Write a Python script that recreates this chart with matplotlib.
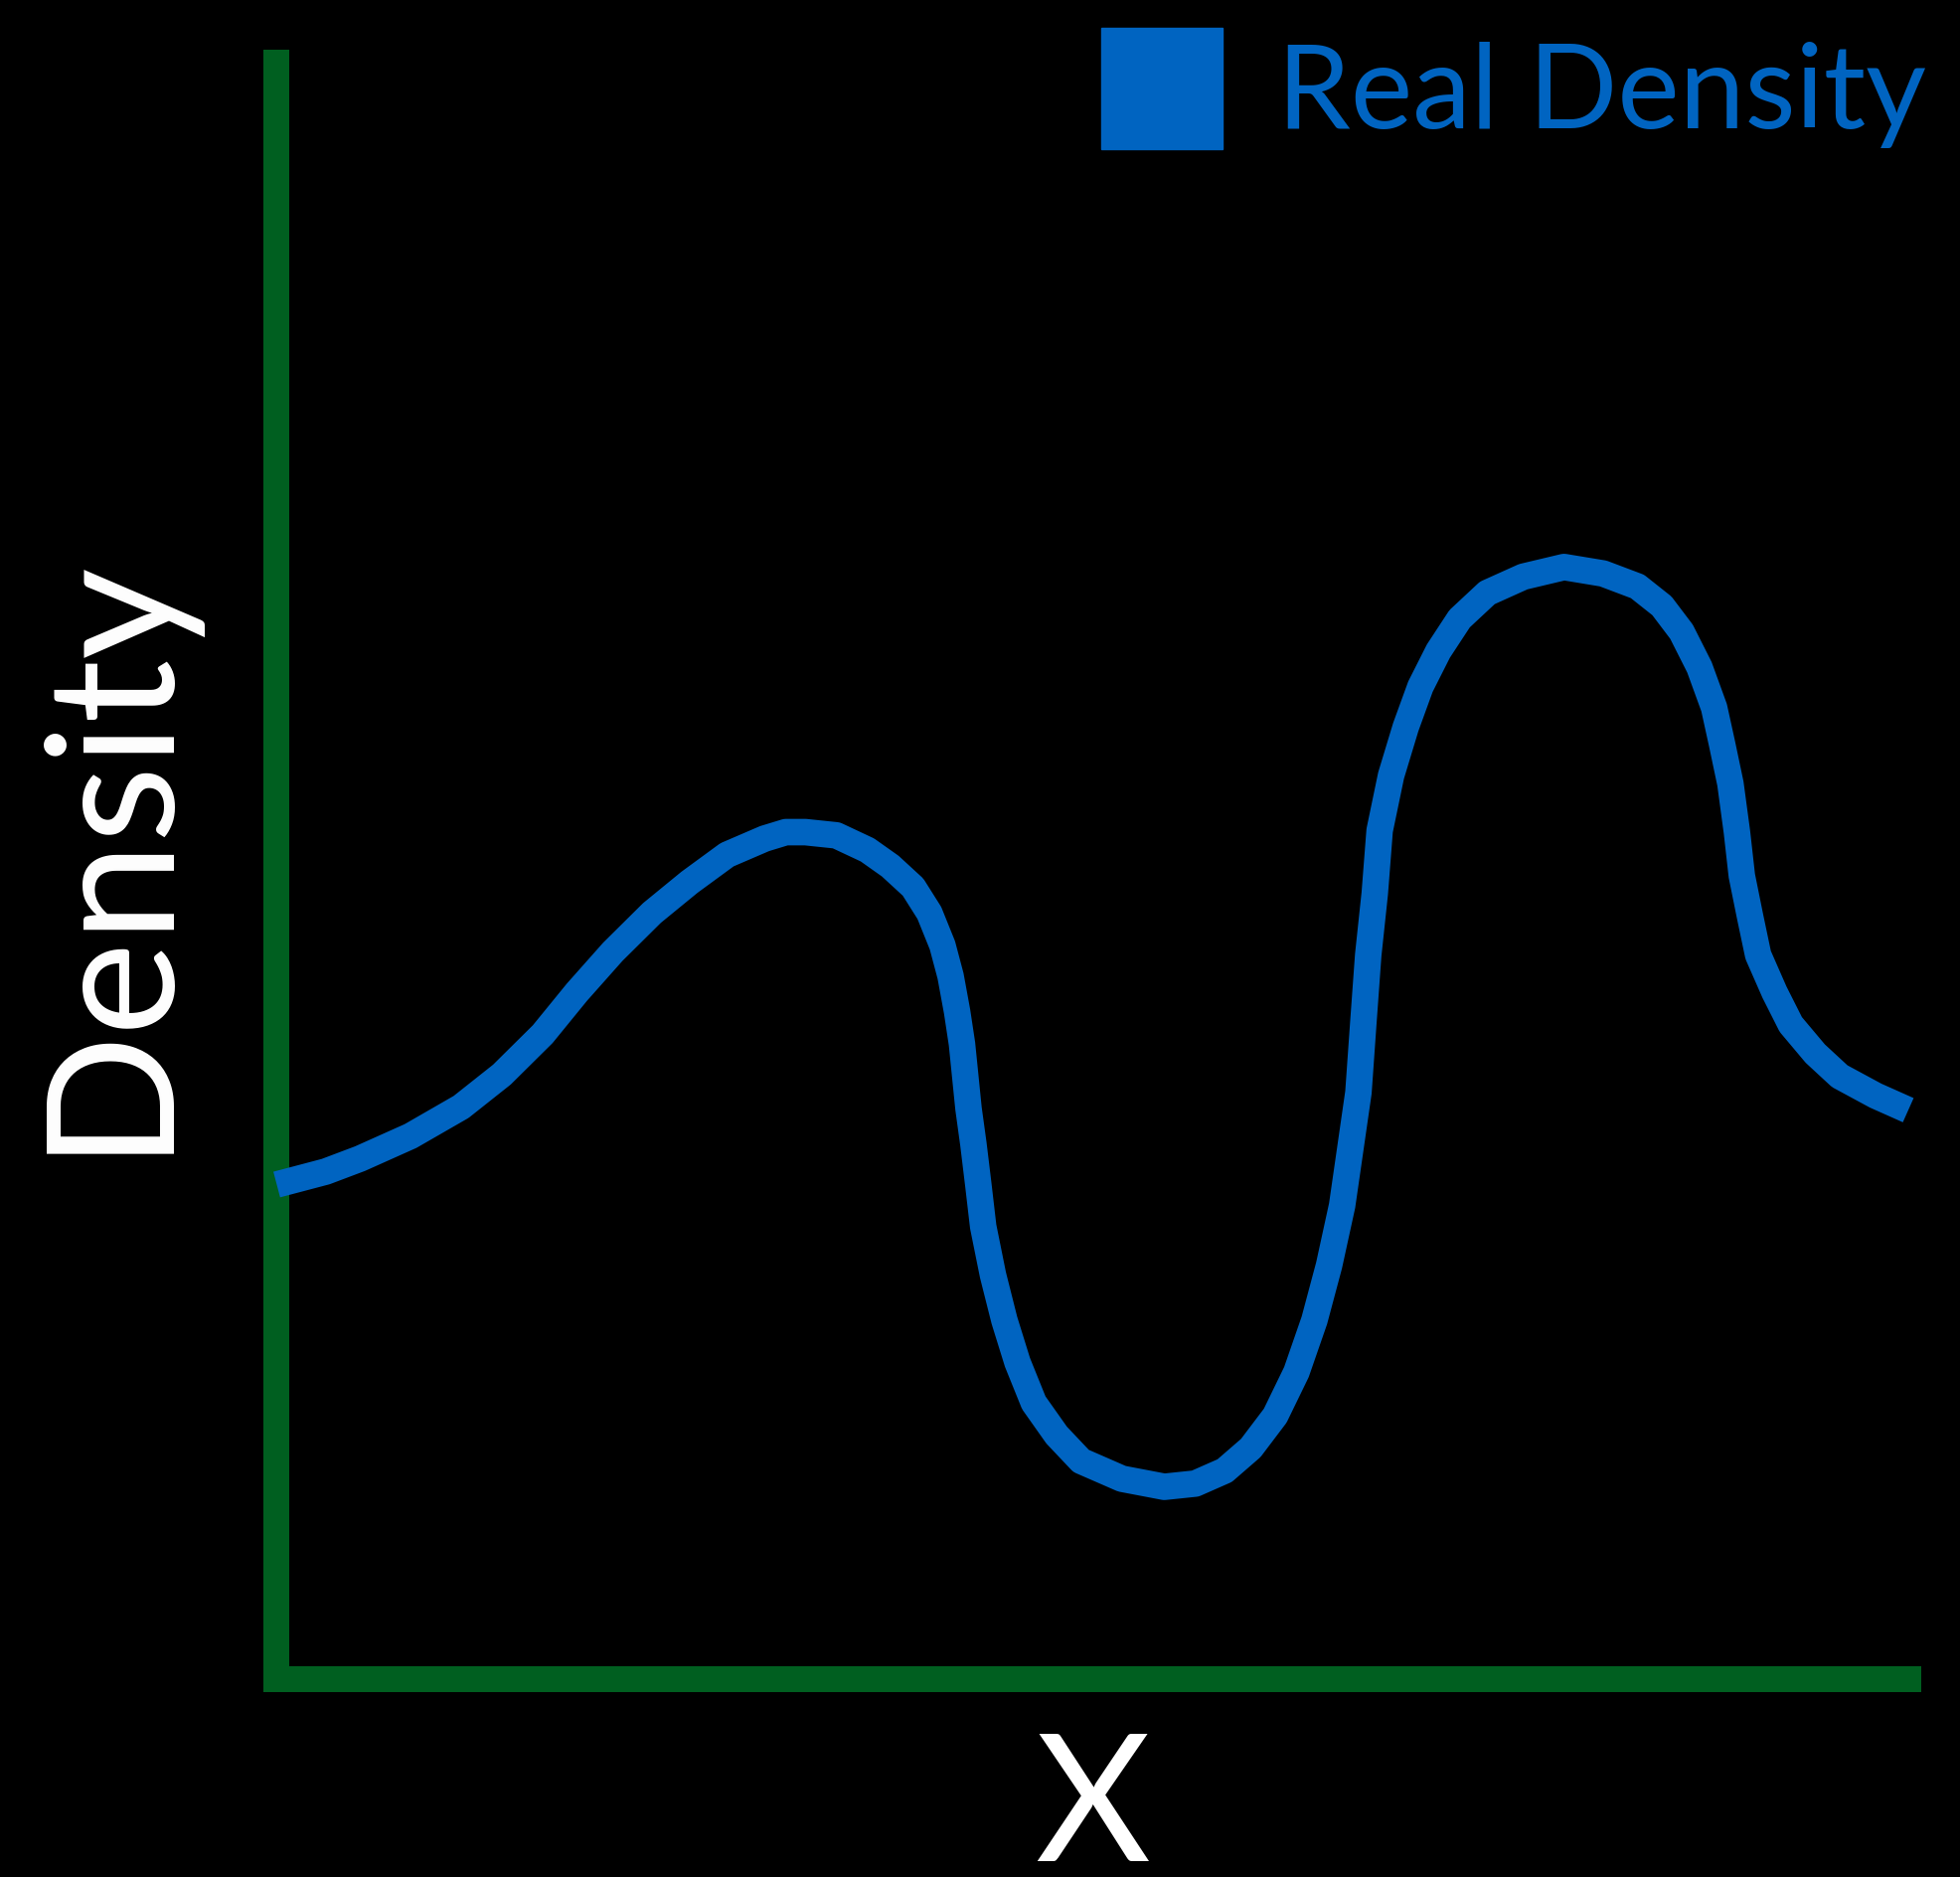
import matplotlib
matplotlib.use('Agg')
import matplotlib.pyplot as plt
from matplotlib.patches import Patch

plt.rcParams['font.family'] = ['Lato', 'DejaVu Sans']

# curve (arbitrary units, axes span 0-100 both ways)
x_vals = [0.0, 3.0, 5.1, 8.2, 11.3, 13.8, 16.3, 18.4, 20.6, 23.0,
          25.3, 27.6, 29.9, 31.2, 32.4, 34.3, 36.2, 37.6, 39.0, 40.0,
          40.8, 41.3, 41.7, 42.0, 42.2, 42.4, 42.7, 43.0, 43.3, 43.9,
          44.6, 45.4, 46.4, 47.8, 49.3, 51.8, 54.4, 56.3, 58.1, 59.7,
          61.2, 62.5, 63.6, 64.5, 65.3, 65.8, 66.3, 66.6, 66.9, 67.3,
          67.6, 68.3, 69.2, 70.1, 71.2, 72.5, 74.2, 76.4, 78.9, 81.3,
          83.4, 84.9, 86.1, 87.2, 88.1, 88.6, 89.1, 89.5, 89.8, 90.3,
          90.8, 91.8, 92.8, 94.3, 95.8, 98.0, 100.0]
density_vals = [30.6, 31.4, 32.2, 33.6, 35.4, 37.4, 39.9, 42.5, 45.0, 47.4,
                49.3, 51.0, 52.0, 52.4, 52.4, 52.2, 51.3, 50.3, 49.0, 47.4,
                45.4, 43.5, 41.3, 39.3, 37.3, 35.3, 33.1, 30.6, 28.0, 25.0,
                22.2, 19.6, 17.1, 15.1, 13.5, 12.4, 11.9, 12.1, 12.9, 14.3,
                16.3, 19.0, 22.2, 25.6, 29.3, 32.8, 36.3, 40.6, 44.8, 48.6,
                52.5, 55.9, 58.9, 61.4, 63.6, 65.6, 67.2, 68.2, 68.8, 68.4,
                67.6, 66.4, 64.8, 62.6, 60.1, 57.8, 55.4, 52.4, 49.7, 47.2,
                44.8, 42.5, 40.5, 38.7, 37.3, 36.1, 35.2]

series_label = 'Real Density'
x_label = 'X'
y_label = 'Density'

line_color = '#0064c1'
axis_color = '#005f20'

fig = plt.figure(figsize=(19.72, 18.88), dpi=100, facecolor='black')
ax = fig.add_axes([0.1412, 0.1054, 0.8324, 0.8612], facecolor='black')

ax.plot(x_vals, density_vals, color=line_color, linewidth=19.2,
        solid_capstyle='butt', solid_joinstyle='round', zorder=3, clip_on=False)

ax.set_xlim(0, 100)
ax.set_ylim(0, 100)
ax.set_xticks([])
ax.set_yticks([])

for side in ['top', 'right']:
    ax.spines[side].set_visible(False)
for side in ['left', 'bottom']:
    ax.spines[side].set_color(axis_color)
    ax.spines[side].set_linewidth(18.72)
    ax.spines[side].set_capstyle('projecting')

ax.set_xlabel(x_label, fontsize=128.6, color='white', labelpad=37)
ax.set_ylabel(y_label, fontsize=128.6, color='white', labelpad=63, y=0.512)

handles = [Patch(color=line_color, label=series_label)]
fig.legend(handles=handles, loc='upper right', bbox_to_anchor=(0.983, 0.985),
           frameon=False, fontsize=85, handlelength=1.03, handleheight=1.214,
           handletextpad=0.47, borderpad=0, borderaxespad=0, labelcolor=line_color)

plt.savefig('out.png', dpi=100, facecolor='black')
